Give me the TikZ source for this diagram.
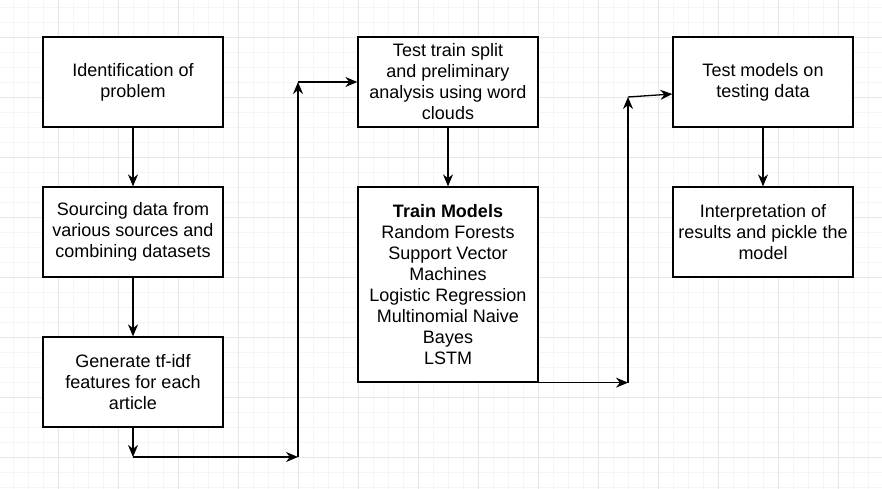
\documentclass[tikz,border=0pt]{standalone}
\usepackage{fontspec}
\setmainfont{Liberation Sans}
\usetikzlibrary{arrows.meta}
\definecolor{gridminor}{HTML}{F5F5F5}
\definecolor{gridmajor}{HTML}{E7E7E7}
\begin{document}
\begin{tikzpicture}[x=1pt, y=-1pt,
    box/.style={draw, line width=1.3pt, fill=white, minimum width=180pt, minimum height=90pt,
      inner sep=0pt, align=center, font=\fontsize{18}{21}\selectfont},
    flow/.style={line width=1.3pt, -{Stealth[length=12pt,width=10pt]}}]
  \useasboundingbox (0,0) rectangle (882,489);
  % background grid
  \foreach \gx in {13,28,...,883} \draw[gridminor, line width=0.8pt] (\gx,0) -- (\gx,489);
  \foreach \gy in {7,22,...,488} \draw[gridminor, line width=0.8pt] (0,\gy) -- (882,\gy);
  \foreach \gx in {58,118,...,838} \draw[gridmajor, line width=0.8pt] (\gx,0) -- (\gx,489);
  \foreach \gy in {37,97,...,457} \draw[gridmajor, line width=0.8pt] (0,\gy) -- (882,\gy);

  \node[box] (ident) at (133,82) {Identification of\\problem};
  \node[box] (source) at (133,232) {Sourcing data from\\various sources and\\combining datasets};
  \node[box] (tfidf) at (133,382) {Generate tf-idf\\features for each\\article};
  \node[box] (split) at (448,82) {Test train split\\and preliminary\\analysis using word\\clouds};
  \node[box, minimum height=195pt] (train) at (448,284.5) {\textbf{Train Models}\\Random Forests\\Support Vector\\Machines\\Logistic Regression\\Multinomial Naive\\Bayes\\LSTM};
  \node[box] (testing) at (763,82) {Test models on\\testing data};
  \node[box] (interp) at (763,232) {Interpretation of\\results and pickle the\\model};

  \coordinate (c1) at (133,457);
  \coordinate (c2) at (298,457);
  \coordinate (c3) at (298,82);
  \coordinate (c5) at (628,97);
  \coordinate (c4) at (train.south east -| c5);

  \draw[flow] (ident) -- (source);
  \draw[flow] (source) -- (tfidf);
  \draw[flow] (tfidf) -- (c1);
  \draw[flow] (c1) -- (c2);
  \draw[flow] (c2) -- (c3);
  \draw[flow] (c3) -- (split);
  \draw[flow] (split) -- (train);
  \draw[flow] (train.south east) -- (c4);
  \draw[flow] (c4) -- (c5);
  \draw[flow] (c5) -- ([yshift=-12pt]testing.west);
  \draw[flow] (testing) -- (interp);
\end{tikzpicture}
\end{document}
